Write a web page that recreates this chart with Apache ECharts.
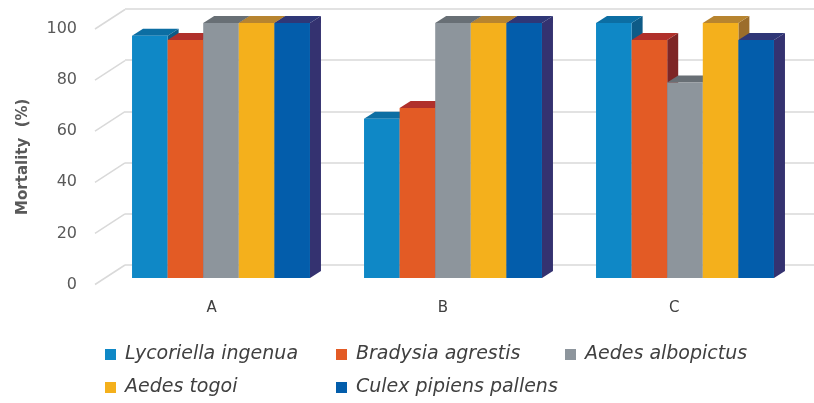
<!DOCTYPE html>
<html>
<head>
<meta charset="utf-8">
<script src="https://cdn.jsdelivr.net/npm/echarts@6/dist/echarts.min.js"></script>
<style>
  html, body { margin: 0; padding: 0; background: #fff; }
</style>
</head>
<body>
<div id="chart" style="width: 814px;height:403px;"></div>
<script>
const categories = ['A', 'B', 'C'];
const speciesNames = ['Lycoriella ingenua', 'Bradysia agrestis', 'Aedes albopictus', 'Aedes togoi', 'Culex pipiens pallens'];
const lycoriella = [95, 62.5, 100];
const bradysia = [93.3, 66.7, 93.3];
const albopictus = [100, 100, 76.7];
const togoi = [100, 100, 100];
const culex = [100, 100, 93.3];
const yTicks = [0, 20, 40, 60, 80, 100];

// front / top / side colours of each species
const faces = [
  ['#0f88c6', '#0c6ea3', '#0e5b87'],
  ['#e35b25', '#b0302b', '#7e2626'],
  ['#8d959c', '#686f75', '#5b6166'],
  ['#f4b01c', '#b7842f', '#9c6d2b'],
  ['#035dab', '#2f3777', '#343270']
];
const depthX = 11, depthY = -7;

// legend slot of each species (left, top)
const legendSlots = [[100, 340], [331, 340], [560, 340], [100, 373], [331, 373]];

function barRenderer(k) {
  const [front, top, side] = faces[k];
  return function (params, api) {
    const cat = api.value(0);
    const p = api.coord([cat, api.value(1)]);
    const b = api.coord([cat, 0]);
    const band = api.size([1, 0])[0];
    const gw = band * 0.767, bw = gw / 5;
    const x0 = p[0] - gw / 2 + k * bw, x1 = x0 + bw;
    return {
      type: 'group',
      children: [
        { type: 'polygon', shape: { points: [[x1, p[1]], [x1 + depthX, p[1] + depthY], [x1 + depthX, b[1] + depthY], [x1, b[1]]] }, style: { fill: side } },
        { type: 'polygon', shape: { points: [[x0, p[1]], [x0 + depthX, p[1] + depthY], [x1 + depthX, p[1] + depthY], [x1, p[1]]] }, style: { fill: top } },
        { type: 'rect', shape: { x: x0, y: p[1], width: bw, height: b[1] - p[1] }, style: { fill: front } }
      ]
    };
  };
}

const seriesValues = [lycoriella, bradysia, albopictus, togoi, culex];

var myChart = echarts.init(document.getElementById('chart'));
var option = {
  animation: false,
  grid: [
    // back wall
    { left: 125, right: 0, top: 9, height: 256 },
    // front floor edge (labels)
    { left: 96, width: 694, top: 29, height: 255.5 },
    // bars front plane
    { left: 105, width: 696, top: 23, height: 255 }
  ],
  xAxis: [
    { gridIndex: 0, type: 'category', data: categories, show: false },
    {
      gridIndex: 1, type: 'category', data: categories,
      axisLine: { show: false }, axisTick: { show: false },
      axisLabel: { margin: 16, color: '#404040', fontSize: 15, fontFamily: 'DejaVu Sans' }
    },
    { gridIndex: 2, type: 'category', data: categories, show: false }
  ],
  yAxis: [
    {
      gridIndex: 0, type: 'value', min: 0, max: 100, interval: 20,
      axisLabel: { show: false }, axisLine: { show: false }, axisTick: { show: false },
      splitLine: { lineStyle: { color: '#d9d9d9', width: 1.5 } }
    },
    {
      gridIndex: 1, type: 'value', min: 0, max: 100, interval: 20,
      axisLine: { show: false }, axisTick: { show: false }, splitLine: { show: false },
      axisLabel: { margin: 19, color: '#595959', fontSize: 16, fontFamily: 'DejaVu Sans' },
      name: 'Mortality  (%)', nameLocation: 'middle', nameRotate: 90, nameGap: 65,
      nameTextStyle: { color: '#595959', fontSize: 15, fontWeight: 'bold', fontFamily: 'DejaVu Sans' }
    },
    { gridIndex: 2, type: 'value', min: 0, max: 100, show: false }
  ],
  legend: speciesNames.map((name, k) => ({
    data: [name], left: legendSlots[k][0], top: legendSlots[k][1],
    icon: 'rect', itemWidth: 11, itemHeight: 11, itemGap: 0,
    textStyle: { fontSize: 19, fontStyle: 'italic', color: '#404040', fontFamily: 'DejaVu Sans', padding: [0, 0, 0, 4] }
  })),
  series: [
    {
      type: 'custom', name: 'floor', xAxisIndex: 1, yAxisIndex: 1, silent: true, clip: false,
      data: yTicks.map(v => [0, v]),
      renderItem: function (params, api) {
        const p = api.coord([0, api.value(1)]);
        const xl = p[0] - api.size([1, 0])[0] / 2;
        return {
          type: 'line',
          shape: { x1: xl - 1, y1: p[1], x2: xl + 29, y2: p[1] - 19.5 },
          style: { stroke: '#d9d9d9', lineWidth: 1.5 }
        };
      }
    }
  ].concat(speciesNames.map((name, k) => ({
    type: 'custom', name, xAxisIndex: 2, yAxisIndex: 2, clip: false,
    itemStyle: { color: faces[k][0] },
    encode: { x: 0, y: 1 },
    data: seriesValues[k].map((v, i) => [i, v]),
    renderItem: barRenderer(k)
  })))
};
option && myChart.setOption(option);
</script>
</body>
</html>
